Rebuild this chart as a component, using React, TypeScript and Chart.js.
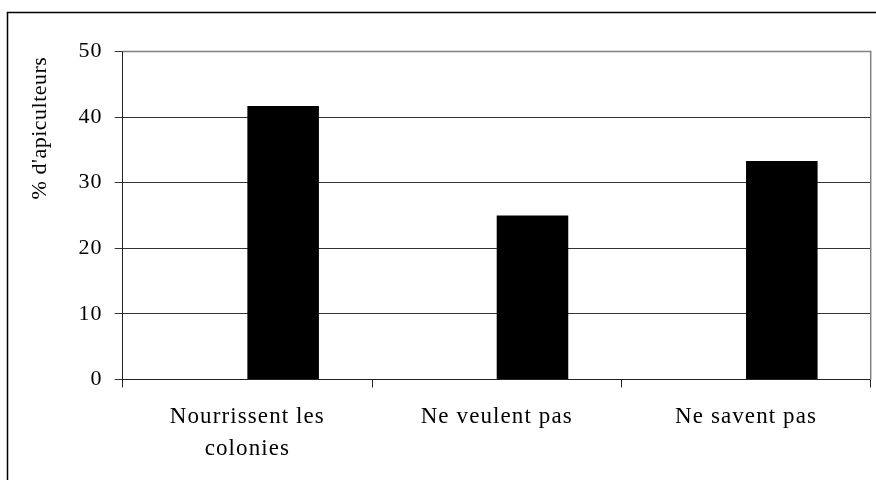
import React, { useEffect, useRef } from "react";
import { Chart, registerables } from "chart.js";

Chart.register(...registerables);

const categories: (string | string[])[] = [["Nourrissent les", "colonies"], "Ne veulent pas", "Ne savent pas"];
const emptySeries = [0, 0, 0];
const values = [41.7, 25.0, 33.3];
const yTitle = "% d'apiculteurs";

const FONT = "'Liberation Serif', 'Times New Roman', serif";
const SPACING = "1.1px";

const framePlugin = {
  id: "frame",
  beforeLayout(chart: any) {
    (chart.ctx as any).letterSpacing = SPACING;
  },
  beforeDraw(chart: any) {
    const ctx = chart.ctx;
    (ctx as any).letterSpacing = SPACING;
    ctx.save();
    ctx.fillStyle = "#fff";
    ctx.fillRect(0, 0, chart.width, chart.height);
    ctx.restore();
  },
  afterDraw(chart: any) {
    const ctx = chart.ctx;
    const a = chart.chartArea;
    ctx.save();
    // plot area border (grey, top and right)
    ctx.strokeStyle = "#808080";
    ctx.lineWidth = 1.5;
    ctx.beginPath();
    ctx.moveTo(a.left, a.top);
    ctx.lineTo(a.right, a.top);
    ctx.lineTo(a.right, a.bottom);
    ctx.stroke();
    // outer frame
    ctx.strokeStyle = "#000";
    ctx.lineWidth = 1.5;
    ctx.beginPath();
    ctx.moveTo(7.5, chart.height + 2);
    ctx.lineTo(7.5, 12.5);
    ctx.lineTo(chart.width + 2, 12.5);
    ctx.stroke();
    // y title
    (ctx as any).letterSpacing = "0.5px";
    ctx.translate(40, 128);
    ctx.rotate(-Math.PI / 2);
    ctx.fillStyle = "#000";
    ctx.font = `22px ${FONT}`;
    ctx.textAlign = "center";
    ctx.textBaseline = "middle";
    ctx.fillText(yTitle, 0, 0);
    ctx.restore();
  },
};

export default function App() {
  const ref = useRef<HTMLCanvasElement | null>(null);
  useEffect(() => {
    if (!ref.current) return;
    const chart = new Chart(ref.current, {
      type: "bar",
      data: {
        labels: categories as any,
        datasets: [
          { data: emptySeries, backgroundColor: "rgba(0,0,0,0)", borderWidth: 0 },
          { data: values, backgroundColor: "#000", borderWidth: 0 },
        ],
      },
      options: {
        responsive: false,
        animation: false,
        devicePixelRatio: 1,
        categoryPercentage: 0.574,
        barPercentage: 1,
        layout: { padding: { left: 0, top: 51.5, right: 5.3, bottom: 0 } },
        plugins: { legend: { display: false }, tooltip: { enabled: false } },
        font: { family: FONT },
        scales: {
          x: {
            grid: { display: true, drawOnChartArea: false, drawTicks: true, tickLength: 8, color: "#222", offset: true },
            border: { display: true, color: "#222", width: 1 },
            ticks: { color: "#000", font: { family: FONT, size: 23, lineHeight: 1.38 }, padding: 14, maxRotation: 0, autoSkip: false },
            afterFit: (s: any) => { s.height = 100.5; },
          },
          y: {
            min: 0,
            max: 50,
            ticks: { stepSize: 10, padding: 12, color: "#000", font: { family: FONT, size: 22 } },
            grid: { color: "#333", tickLength: 8 },
            border: { color: "#222", width: 1 },
            afterFit: (s: any) => { s.width = 122.7; },
          },
        },
      } as any,
      plugins: [framePlugin],
    });
    return () => chart.destroy();
  }, []);
  return (
    <div style={{ position: "absolute", left: 0, top: 0, width: 876, height: 480 }}>
      <canvas ref={ref} width={876} height={480} style={{ display: "block" }} />
    </div>
  );
}
